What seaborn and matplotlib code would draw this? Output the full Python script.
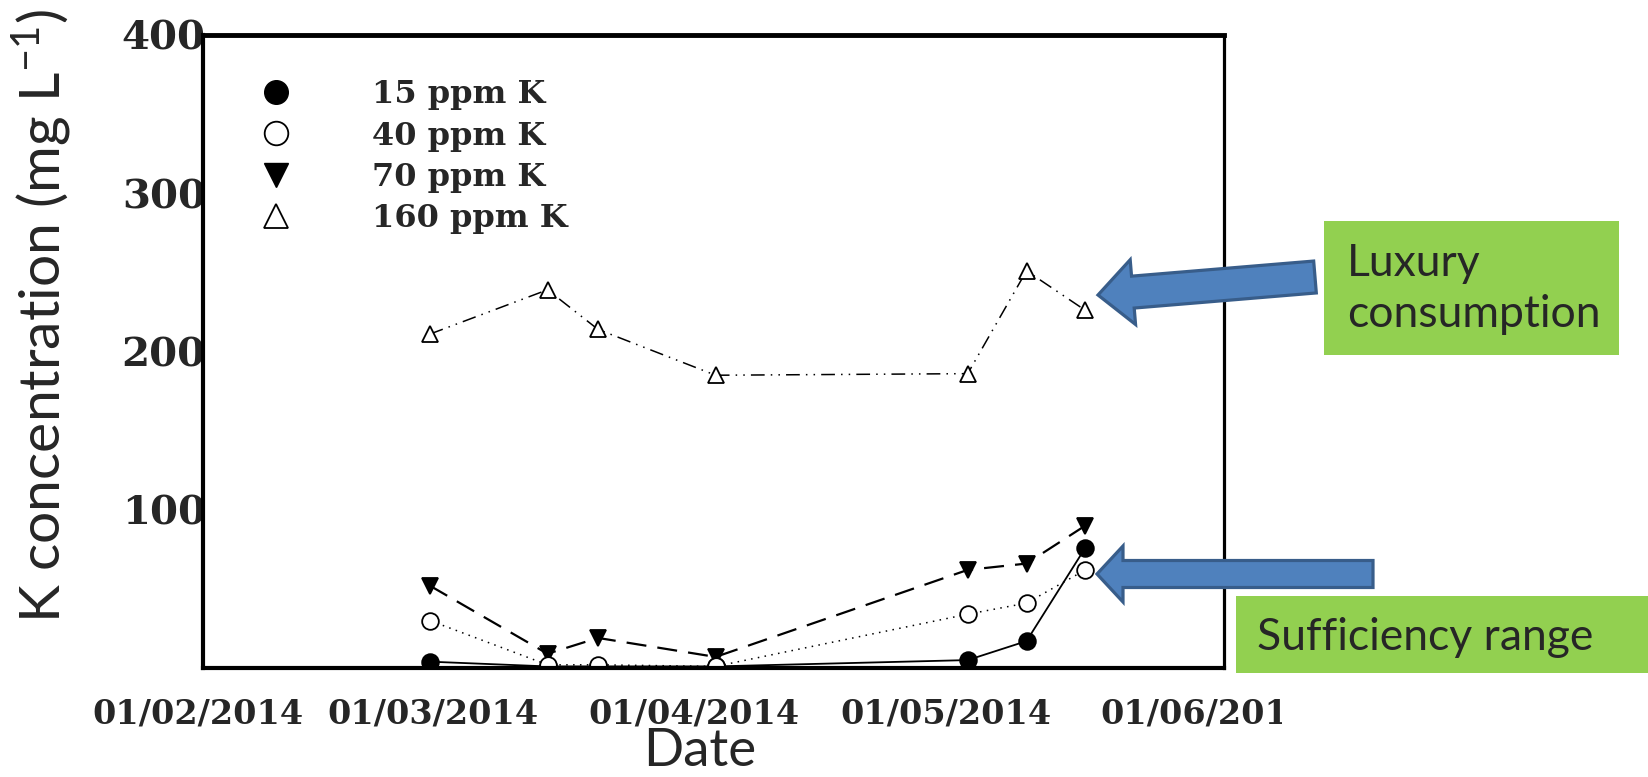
import numpy as np
import pandas as pd
import matplotlib
matplotlib.use("Agg")
import matplotlib.pyplot as plt
from matplotlib.lines import Line2D
from matplotlib.patches import FancyArrow, Rectangle
from matplotlib.transforms import Affine2D, ScaledTranslation, Bbox
import seaborn as sns

# ---------------- data ----------------
dates = ["2014-02-28", "2014-03-14", "2014-03-20", "2014-04-03",
         "2014-05-03", "2014-05-10", "2014-05-17"]
k15 = [4, 1, 1, 1, 5, 17, 76]
k40 = [30, 2, 2, 1, 34, 41, 62]
k70 = [52, 9, 19, 7, 62, 66, 90]
k160 = [211, 239, 214, 185, 186, 251, 226]
series_labels = ["15 ppm K", "40 ppm K", "70 ppm K", "160 ppm K"]
xtick_dates = ["2014-02-01", "2014-03-01", "2014-04-01", "2014-05-01", "2014-06-01"]
xtick_labels = ["01/02/2014", "01/03/2014", "01/04/2014", "01/05/2014", "01/06/2014"]
yticks = [100, 200, 300, 400]
note_luxury = "Luxury\nconsumption"
note_suff = "Sufficiency range"

W, H = 1648, 777
sns.set_theme(style="white")
plt.rcParams["font.family"] = ["Liberation Serif", "DejaVu Sans"]
plt.rcParams["mathtext.fontset"] = "custom"
plt.rcParams["mathtext.rm"] = "Lato"
plt.rcParams["mathtext.it"] = "Lato"

fig = plt.figure(figsize=(W / 100, H / 100), dpi=100)
ax = fig.add_axes([203 / W, 1 - 668 / H, (1224 - 203) / W, (668 - 35) / H])

x = pd.to_datetime(dates)
styles = [
    dict(data=k15, marker="o", mfc="black", ls="-", lw=1.3, ms=12),
    dict(data=k70, marker="v", mfc="black", ls=(0, (9, 5)), lw=1.6, ms=12),
    dict(data=k40, marker="o", mfc="white", ls=(0, (1, 3.5)), lw=1.1, ms=12),
    dict(data=k160, marker="^", mfc="white", ls=(0, (9, 4, 1, 4, 1, 4)), lw=1.1, ms=11),
]
for s in styles:
    sns.lineplot(x=x, y=s["data"], ax=ax, color="black", linestyle=s["ls"],
                 linewidth=s["lw"], marker=s["marker"], markersize=s["ms"],
                 markerfacecolor=s["mfc"], markeredgecolor="black",
                 markeredgewidth=1.3, legend=False)

ax.set_xlim(pd.Timestamp("2014-02-02 12:00"), pd.Timestamp("2014-06-02 12:00"))
ax.set_ylim(0, 400)
ax.set_xticks(pd.to_datetime(xtick_dates))
ax.set_xticklabels(xtick_labels)
ax.set_yticks(yticks)
ax.set_yticklabels([str(v) for v in yticks])
ax.tick_params(axis="y", direction="in", length=16, width=2, pad=-2,
               labelsize=29)
ax.tick_params(axis="x", length=0, pad=21, labelsize=24)
shift = ScaledTranslation(-5 / 100, 0, fig.dpi_scale_trans)
for lab in ax.get_xticklabels() + ax.get_yticklabels():
    lab.set_fontweight("bold")
    lab.set_fontfamily("DejaVu Serif")
for lab in ax.get_xticklabels():
    lab.set_transform(lab.get_transform() + shift)
fig.canvas.draw()
last = ax.get_xticklabels()[-1]
last.set_clip_on(True)
last.set_clip_box(Bbox([[0, 0], [1282, H]]))
for sp in ax.spines.values():
    sp.set_color("black")
    sp.set_linewidth(2.3)
ax.spines["top"].set_linewidth(3.5)
ax.spines["left"].set_linewidth(3)
ax.spines["bottom"].set_linewidth(3)
ax.grid(False)

ax.set_ylabel("K concentration (mg L$^{-1}$)", fontsize=41, family="Lato")
ax.yaxis.set_label_coords(-0.126, 0.555)
ax.set_xlabel("Date", fontsize=38, family="Lato")
ax.xaxis.set_label_coords(0.486, -0.094)

handles = [
    Line2D([], [], marker="o", ls="None", color="black", mfc="black", ms=17),
    Line2D([], [], marker="o", ls="None", color="black", mfc="white", ms=17, mew=1.3),
    Line2D([], [], marker="v", ls="None", color="black", mfc="black", ms=17),
    Line2D([], [], marker="^", ls="None", color="black", mfc="white", ms=17, mew=1.3),
]
leg = ax.legend(handles, series_labels, loc="upper left",
                bbox_to_anchor=(0.056, 0.93), frameon=False, handlelength=1,
                handletextpad=2.5, labelspacing=0.32, borderaxespad=0,
                borderpad=0, prop=dict(family="DejaVu Serif", weight="bold", size=23))

# ---------------- annotations (pixel coordinates) ----------------
pix = Affine2D().scale(1 / W, -1 / H).translate(0, 1) + fig.transFigure
blue, blue_edge, green = "#4F81BD", "#385D8A", "#92D050"

fig.patches.append(Rectangle((1324, 221), 295, 134, transform=pix,
                             facecolor=green, edgecolor="none"))
fig.patches.append(Rectangle((1236, 596), 420, 77, transform=pix,
                             facecolor=green, edgecolor="none", clip_on=False))
fig.text(1347 / W, 1 - 289 / H, note_luxury, fontsize=32, family="Lato",
         ha="left", va="center", linespacing=1.33)
fig.text(1257 / W, 1 - 637 / H, note_suff, fontsize=32, family="Lato",
         ha="left", va="center")

fig.patches.append(FancyArrow(1315, 277, 1098 - 1315, 295 - 277, width=32,
                              head_width=65, head_length=35,
                              length_includes_head=True, transform=pix,
                              facecolor=blue, edgecolor=blue_edge, linewidth=2.3))
fig.patches.append(FancyArrow(1373, 574, 1097 - 1373, 0, width=27,
                              head_width=56, head_length=26,
                              length_includes_head=True, transform=pix,
                              facecolor=blue, edgecolor=blue_edge, linewidth=2.3))

fig.savefig("out.png", dpi=100, facecolor="white")
